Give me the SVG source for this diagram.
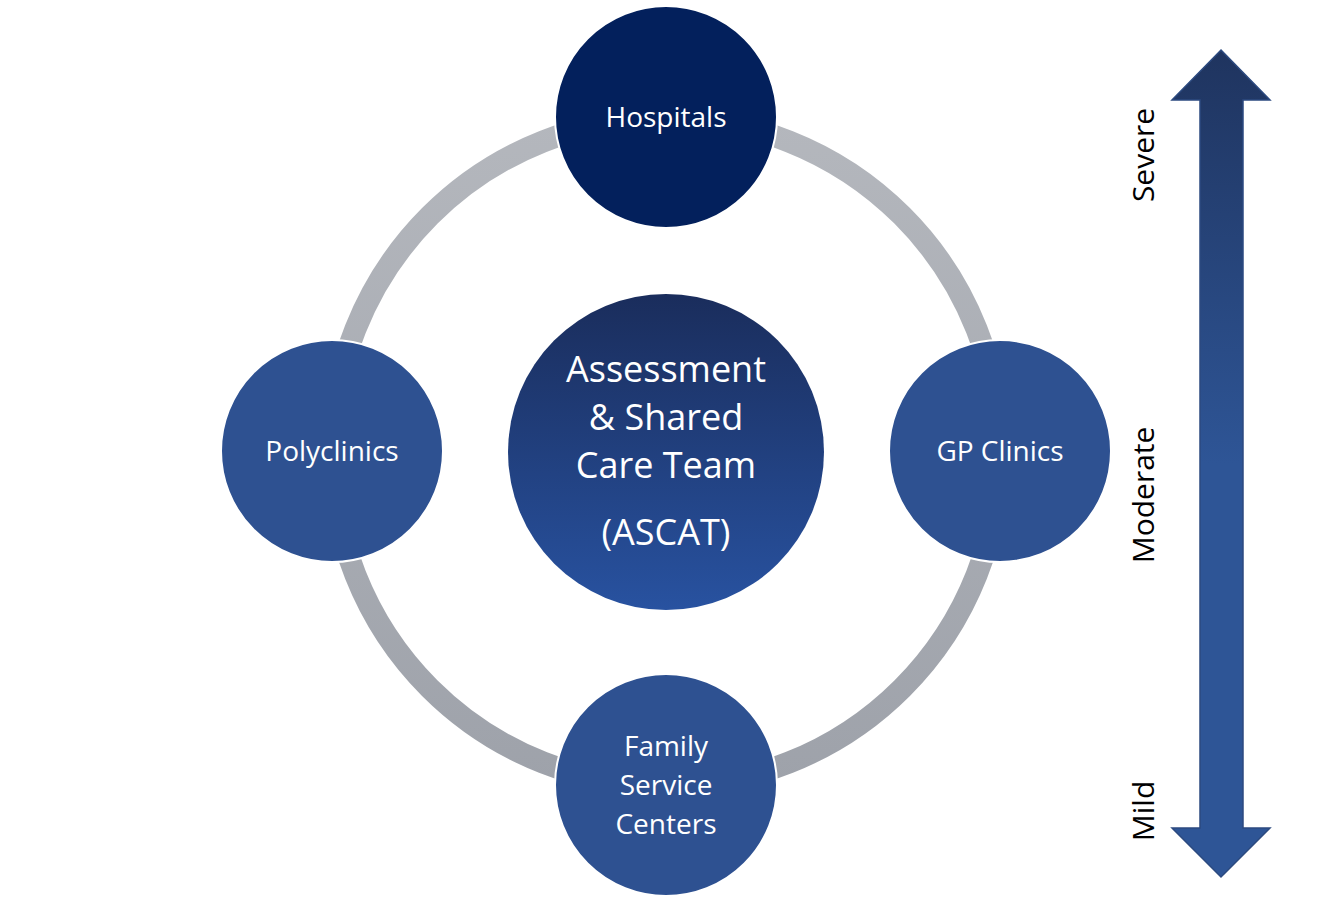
<svg xmlns="http://www.w3.org/2000/svg" width="1333" height="908" viewBox="0 0 1333 908">
<defs>
<linearGradient id="ring" x1="0" y1="0" x2="0" y2="1"><stop offset="0" stop-color="#b4b7bd"/><stop offset="1" stop-color="#9ea2aa"/></linearGradient>
<linearGradient id="ctr" x1="0" y1="0" x2="0" y2="1"><stop offset="0" stop-color="#1a2d5c"/><stop offset="1" stop-color="#2852a0"/></linearGradient>
<linearGradient id="arr" x1="0" y1="0" x2="0" y2="1"><stop offset="0" stop-color="#1f345f"/><stop offset="0.5" stop-color="#2e5596"/><stop offset="1" stop-color="#2e5596"/></linearGradient>
<style>
.n{fill:#2e5191;stroke:#ffffff;stroke-width:2}
.t{font-family:"Open Sans","Liberation Sans",sans-serif;fill:#fff;text-anchor:middle}
.s{font-family:"Open Sans","Liberation Sans",sans-serif;fill:#000;text-anchor:middle;font-size:30px}
</style>
</defs>
<g id="connectors"><circle cx="666" cy="452" r="334" fill="none" stroke="url(#ring)" stroke-width="22"/></g>
<g id="hospitals"><circle cx="666" cy="117" r="111" fill="#03205c" stroke="#fff" stroke-width="2"/><text class="t" x="666" y="127" font-size="28">Hospitals</text></g>
<g id="polyclinics"><circle class="n" cx="332" cy="451" r="111"/><text class="t" x="332" y="461" font-size="28">Polyclinics</text></g>
<g id="gp"><circle class="n" cx="1000" cy="451" r="111"/><text class="t" x="1000" y="461" font-size="28">GP Clinics</text></g>
<g id="family"><circle class="n" cx="666" cy="785" r="111"/><text class="t" font-size="28"><tspan x="666" y="756">Family</tspan><tspan x="666" y="795">Service</tspan><tspan x="666" y="834">Centers</tspan></text></g>
<g id="ascat"><circle cx="666" cy="452" r="158" fill="url(#ctr)"/><text class="t" font-size="36"><tspan x="666" y="382">Assessment</tspan><tspan x="666" y="430">&amp; Shared</tspan><tspan x="666" y="478">Care Team</tspan><tspan x="666" y="545">(ASCAT)</tspan></text></g>
<g id="scale">
<polygon points="1221,50 1270,100 1243,100 1243,828 1270,828 1221,877 1172,828 1200,828 1200,100 1172,100" fill="url(#arr)" stroke="#2c4a80" stroke-width="1.5"/>
<text class="s" transform="translate(1154,155) rotate(-90)">Severe</text>
<text class="s" transform="translate(1154,495) rotate(-90)">Moderate</text>
<text class="s" transform="translate(1154,811) rotate(-90)">Mild</text>
</g>
</svg>
